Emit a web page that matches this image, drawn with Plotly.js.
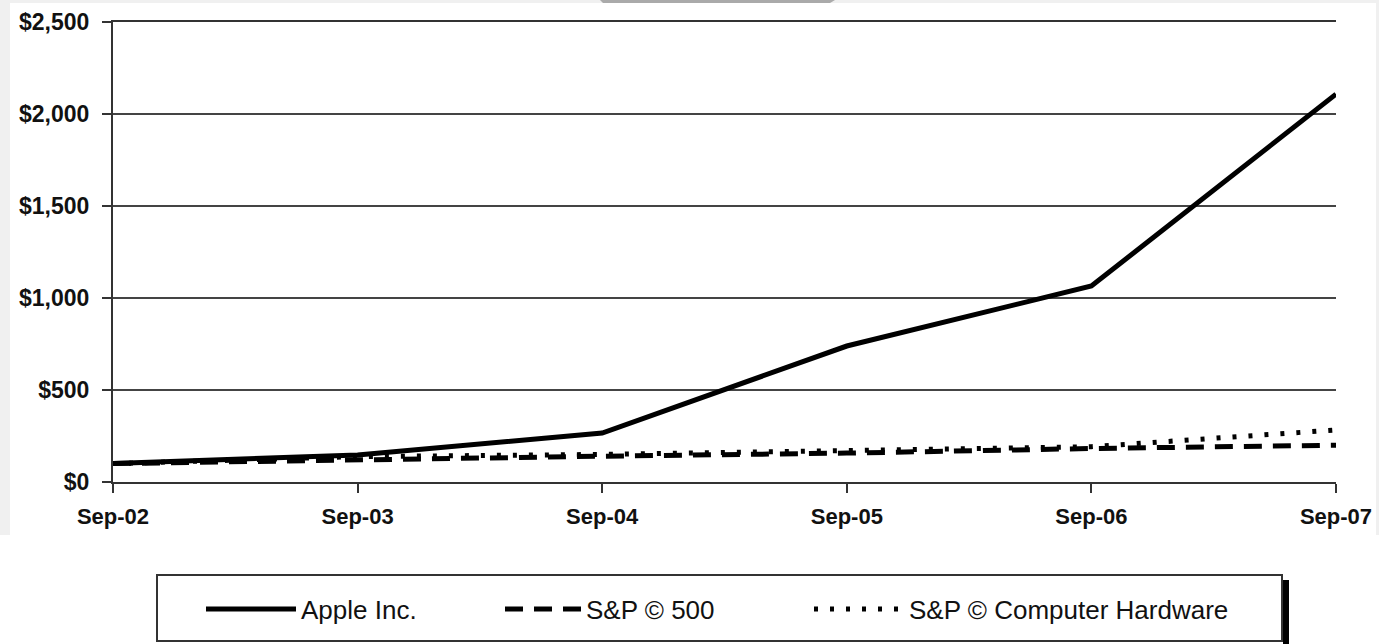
<!DOCTYPE html>
<html>
<head>
<meta charset="utf-8">
<script src="https://cdn.plot.ly/plotly-3.0.1.min.js"></script>
<style>html,body{margin:0;padding:0;background:#fff;}#chart{width:1379px;height:644px;}</style>
</head>
<body>
<div id="chart"></div>
<script>
const dates = ["Sep-02", "Sep-03", "Sep-04", "Sep-05", "Sep-06", "Sep-07"];
const apple = [100, 147, 266, 739, 1065, 2108];
const sp500 = [100, 123, 140, 157, 182, 200];
const spHardware = [100, 138, 150, 172, 192, 283];
const yTickVals = [0, 500, 1000, 1500, 2000, 2500];
const yTickText = ["$0", "$500", "$1,000", "$1,500", "$2,000", "$2,500"];

const traces = [
  {x: dates, y: apple, name: "Apple Inc.", legend: "legend", mode: "lines", line: {color: "#000", width: 5, dash: "solid"}},
  {x: dates, y: sp500, name: "S&P \u00A9 500", legend: "legend2", mode: "lines", line: {color: "#000", width: 5, dash: "18px,11px"}},
  {x: dates, y: spHardware, name: "S&P \u00A9 Computer Hardware", legend: "legend3", mode: "lines", line: {color: "#000", width: 5, dash: "4px,12px"}}
];

// pixel -> paper helpers (plot area: x 113..1336, y 22..482)
const px = v => (v - 113) / 1223;
const py = v => (482 - v) / 460;

function legendAt(pxv, itemw) {
  return {
    orientation: "h", x: px(pxv), xanchor: "left", y: -0.225, yanchor: "top",
    borderwidth: 0, bgcolor: "rgba(0,0,0,0)",
    font: {size: 26, color: "#111", family: "Liberation Sans, Arial, sans-serif"}, itemwidth: itemw
  };
}

const layout = {
  width: 1379, height: 644,
  margin: {l: 113, r: 43, t: 22, b: 162},
  paper_bgcolor: "#fff", plot_bgcolor: "#fff",
  font: {family: "Liberation Sans, Arial, sans-serif", color: "#111"},
  showlegend: true,
  legend: legendAt(201, 90),
  legend2: legendAt(500, 76),
  legend3: legendAt(809, 90),
  shapes: [
    {type: "rect", xref: "paper", yref: "paper", x0: px(0), x1: px(10), y0: py(535), y1: py(0),
     line: {width: 0}, fillcolor: "#f0f0f0", layer: "below"},
    {type: "rect", xref: "paper", yref: "paper", x0: px(0), x1: px(1379), y0: py(3), y1: py(0),
     line: {width: 0}, fillcolor: "#f0f0f0", layer: "below"},
    {type: "rect", xref: "paper", yref: "paper", x0: px(1376), x1: px(1379), y0: py(535), y1: py(0),
     line: {width: 0}, fillcolor: "#f0f0f0", layer: "below"},
    {type: "path", xref: "paper", yref: "paper",
     path: "M" + px(600) + "," + py(0) + " L" + px(835) + "," + py(0) + " L" + px(830) + "," + py(3) + " L" + px(603) + "," + py(3) + " Z",
     line: {width: 0}, fillcolor: "#aaaaaa", layer: "below"},
    {type: "rect", xref: "paper", yref: "paper", x0: px(157), x1: px(1282), y0: py(641), y1: py(575),
     line: {color: "#333", width: 2}, fillcolor: "rgba(0,0,0,0)", layer: "below"},
    {type: "line", xref: "paper", yref: "paper", x0: px(1286), x1: px(1286), y0: py(644), y1: py(580),
     line: {color: "#000", width: 6}}
  ],
  xaxis: {
    type: "category", range: [0, 5], showgrid: false,
    showline: true, linecolor: "#333", linewidth: 2, mirror: true,
    ticks: "outside", ticklen: 9, tickwidth: 2, tickcolor: "#333",
    ticklabelstandoff: 5,
    tickfont: {size: 22, family: "Liberation Sans, Arial, sans-serif", weight: "bold", color: "#111"},
    zeroline: false
  },
  yaxis: {
    range: [0, 2500], tickvals: yTickVals, ticktext: yTickText,
    showgrid: true, gridcolor: "#444", gridwidth: 2,
    showline: true, linecolor: "#333", linewidth: 2,
    ticks: "outside", ticklen: 9, tickwidth: 2, tickcolor: "#333",
    ticklabelstandoff: 8,
    tickfont: {size: 23, family: "Liberation Sans, Arial, sans-serif", weight: "bold", color: "#111"},
    zeroline: false
  }
};

Plotly.newPlot("chart", traces, layout, {displayModeBar: false, staticPlot: true});
</script>
</body>
</html>
